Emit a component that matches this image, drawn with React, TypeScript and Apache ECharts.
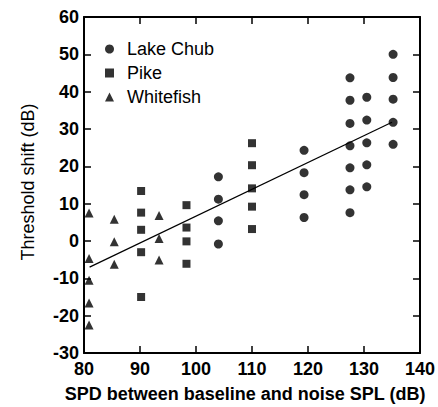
import React, { useEffect, useRef } from "react";
import * as echarts from "echarts";

const seriesNames = ["Lake Chub", "Pike", "Whitefish"];

const lakeChub: [number, number][] = [
  [104, 17.2], [104, 11.2], [104, 5.4], [104, -0.8],
  [119.3, 24.3], [119.3, 18.3], [119.3, 12.4], [119.3, 6.3],
  [127.5, 43.7], [127.5, 37.7], [127.5, 31.5], [127.5, 25.5], [127.5, 19.6], [127.5, 13.7], [127.5, 7.6],
  [130.5, 38.5], [130.5, 32.4], [130.5, 26.3], [130.5, 20.4], [130.5, 14.5],
  [135.2, 50], [135.2, 43.8], [135.2, 38], [135.2, 31.8], [135.2, 25.9],
];

const pike: [number, number][] = [
  [90.2, 13.4], [90.2, 7.6], [90.2, 3.0], [90.2, -3.0], [90.2, -15.0],
  [98.3, 9.6], [98.3, 3.6], [98.3, -0.1], [98.3, -6.1],
  [110, 26.2], [110, 20.3], [110, 14.1], [110, 9.2], [110, 3.2],
];

const whitefish: [number, number][] = [
  [80.9, 7.5], [80.9, -4.7], [80.9, -10.5], [80.9, -16.6], [80.9, -22.5],
  [85.4, 5.8], [85.4, -0.2], [85.4, -6.2],
  [93.4, 6.8], [93.4, 0.7], [93.4, -5.1],
];

const fitLine: [number, number][] = [
  [81, -7],
  [135, 31.8],
];

const xRange = { min: 80, max: 140, interval: 10 };
const yRange = { min: -30, max: 60, interval: 10 };

const xTitle = "SPD between baseline and noise SPL (dB)";
const yTitle = "Threshold shift (dB)";

const FONT = "'Liberation Sans', Arial, Helvetica, sans-serif";

export default function App() {
  const ref = useRef<HTMLDivElement>(null);

  useEffect(() => {
    if (!ref.current) return;
    const chart = echarts.init(ref.current, undefined, { renderer: "svg" });

    const axisLine = { show: true, onZero: false, lineStyle: { color: "#000", width: 2 } };
    const axisTick = { show: true, inside: true, length: 7, lineStyle: { color: "#000", width: 1.5 } };

    chart.setOption({
      animation: false,
      backgroundColor: "#fff",
      grid: { left: 84, right: 18, top: 17, bottom: 54, containLabel: false },
      legend: {
        data: seriesNames,
        orient: "vertical",
        left: 100,
        top: 34,
        itemWidth: 9,
        itemHeight: 9,
        itemGap: 4,
        selectedMode: false,
        textStyle: {
          fontFamily: FONT,
          fontSize: 18,
          color: "#000",
          lineHeight: 20,
          padding: [0, 0, 0, 8],
        },
      },
      xAxis: [
        {
          type: "value",
          min: xRange.min,
          max: xRange.max,
          interval: xRange.interval,
          axisLine,
          axisTick,
          splitLine: { show: false },
          axisLabel: {
            color: "#000",
            fontFamily: FONT,
            fontSize: 18,
            fontWeight: "bold",
            margin: 7,
          },
        },
        {
          type: "value",
          position: "top",
          min: xRange.min,
          max: xRange.max,
          interval: xRange.interval,
          axisLine,
          axisTick,
          splitLine: { show: false },
          axisLabel: { show: false },
        },
      ],
      yAxis: [
        {
          type: "value",
          min: yRange.min,
          max: yRange.max,
          interval: yRange.interval,
          axisLine,
          axisTick,
          splitLine: { show: false },
          axisLabel: {
            color: "#000",
            fontFamily: FONT,
            fontSize: 18,
            fontWeight: "bold",
            margin: 5,
          },
        },
        {
          type: "value",
          position: "right",
          min: yRange.min,
          max: yRange.max,
          interval: yRange.interval,
          axisLine,
          axisTick,
          splitLine: { show: false },
          axisLabel: { show: false },
        },
      ],
      graphic: [
        {
          type: "text",
          x: 245,
          y: 394,
          style: {
            text: xTitle,
            fontFamily: FONT,
            fontSize: 18,
            fontWeight: "bold",
            fill: "#000",
            textAlign: "center",
            textVerticalAlign: "middle",
          },
        },
        {
          type: "text",
          x: 28,
          y: 182,
          rotation: Math.PI / 2,
          style: {
            text: yTitle,
            fontFamily: FONT,
            fontSize: 18,
            fill: "#000",
            textAlign: "center",
            textVerticalAlign: "middle",
          },
        },
      ],
      series: [
        {
          name: seriesNames[0],
          type: "scatter",
          data: lakeChub,
          symbol: "circle",
          symbolSize: 9,
          itemStyle: { color: "#000" },
          clip: false,
        },
        {
          name: seriesNames[1],
          type: "scatter",
          data: pike,
          symbol: "rect",
          symbolSize: 8,
          itemStyle: { color: "#000" },
          clip: false,
        },
        {
          name: seriesNames[2],
          type: "scatter",
          data: whitefish,
          symbol: "triangle",
          symbolSize: 9,
          itemStyle: { color: "#000" },
          clip: false,
        },
        {
          name: "fit",
          type: "line",
          data: fitLine,
          symbol: "none",
          lineStyle: { color: "#000", width: 1.2 },
          silent: true,
        },
      ],
    });

    return () => chart.dispose();
  }, []);

  return (
    <div
      ref={ref}
      style={{ position: "fixed", left: 0, top: 0, width: 438, height: 407, background: "#fff" }}
    />
  );
}
